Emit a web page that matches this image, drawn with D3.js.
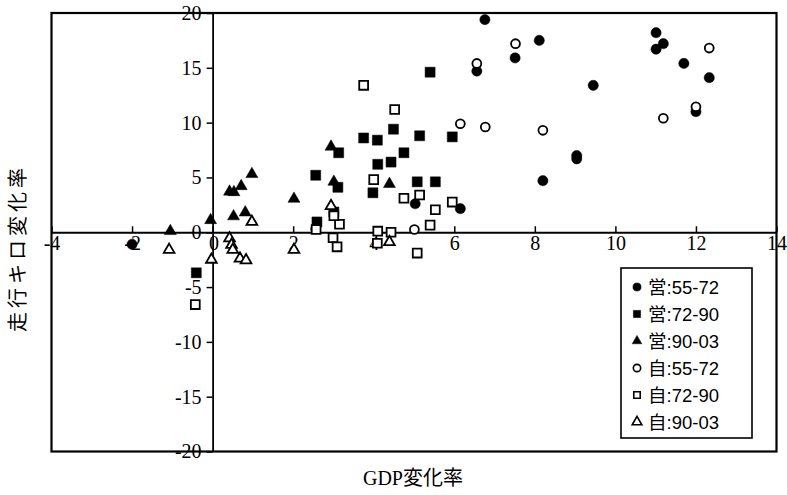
<!DOCTYPE html>
<html>
<head>
<meta charset="utf-8">
<script src="https://cdn.jsdelivr.net/npm/d3@7/dist/d3.min.js"></script>
<style>
  body { margin: 0; background: #fff; }
  svg { display: block; }
</style>
</head>
<body>
<svg id="chart" width="787" height="495"></svg>
<script>
// GDP変化率 (x) vs 走行キロ変化率 (y)
const eiGyo5572 = [[6.76,19.4],[8.11,17.5],[7.51,15.9],[6.56,14.7],[9.45,13.4],[11.01,18.2],[11.19,17.2],[11.01,16.7],[11.70,15.4],[12.33,14.1],[12.0,11.0],[9.04,7.0],[9.04,6.7],[8.2,4.7],[5.03,2.6],[6.15,2.15],[-2.0,-1.1]];
const eiGyo7290 = [[5.40,14.6],[3.75,8.6],[4.09,8.4],[4.49,9.4],[5.14,8.8],[5.95,8.7],[4.75,7.25],[4.10,6.2],[4.43,6.4],[3.13,7.25],[2.56,5.2],[3.11,4.1],[3.98,3.6],[5.08,4.6],[5.53,4.6],[3.01,1.85],[2.59,0.94],[-0.405,-3.7]];
const eiGyo9003 = [[-1.05,0.1],[-0.05,1.1],[0.42,3.7],[0.53,3.65],[0.71,4.2],[0.975,5.3],[0.52,1.45],[0.81,1.8],[2.02,3.05],[2.94,7.8],[3.01,4.6],[4.39,4.4]];
const jika5572 = [[7.52,17.2],[6.56,15.4],[12.33,16.8],[12.0,11.45],[11.19,10.4],[6.15,9.9],[6.77,9.6],[8.2,9.3],[5.01,0.25],[2.56,0.3]];
const jika7290 = [[3.75,13.4],[4.52,11.2],[4.0,4.8],[4.75,3.1],[5.14,3.4],[5.53,2.05],[5.95,2.75],[3.15,0.73],[3.01,1.5],[2.99,-0.5],[3.09,-1.33],[4.1,0.1],[4.43,0.0],[4.09,-1.0],[5.40,0.65],[5.08,-1.9],[-0.43,-6.6],[2.57,0.25]];
const jika9003 = [[-1.08,-1.6],[-0.03,-2.5],[0.42,-0.55],[0.47,-1.15],[0.5,-1.6],[0.68,-2.4],[0.83,-2.55],[0.975,0.95],[2.02,-1.6],[4.39,-0.9],[2.94,2.4]];

const xTicks = [-4,-2,0,2,4,6,8,10,12,14];
const yTicks = [-20,-15,-10,-5,0,5,10,15,20];

const seriesNames = ["営:55-72","営:72-90","営:90-03","自:55-72","自:72-90","自:90-03"];
const seriesData = [eiGyo5572, eiGyo7290, eiGyo9003, jika5572, jika7290, jika9003];

const svg = d3.select("#chart");

const x = d3.scaleLinear().domain([-4, 14]).range([51.5, 776.5]);
const y = d3.scaleLinear().domain([-20, 20]).range([451.5, 13]);

const serif = "'Liberation Serif', 'Noto Sans CJK JP', serif";
const sans = "'Liberation Sans', 'Noto Sans CJK JP', sans-serif";
const plain = (d) => String(d); // hyphen minus, like the original

// frame
svg.append("rect")
  .attr("x", x(-4)).attr("y", y(20))
  .attr("width", x(14) - x(-4)).attr("height", y(-20) - y(20))
  .attr("fill", "none").attr("stroke", "#000").attr("stroke-width", 2.2);

// x axis on y = 0
const gx = svg.append("g")
  .attr("transform", `translate(0,${y(0)})`)
  .call(d3.axisBottom(x).tickValues(xTicks).tickFormat(plain)
    .tickSizeInner(-6).tickSizeOuter(0).tickPadding(4));

// y axis on x = 0
const gy = svg.append("g")
  .attr("transform", `translate(${x(0)},0)`)
  .call(d3.axisLeft(y).tickValues(yTicks).tickFormat(plain)
    .tickSizeInner(6).tickSizeOuter(0).tickPadding(5));

[gx, gy].forEach((g) => {
  g.select(".domain").attr("stroke-width", 1.8);
  g.selectAll(".tick line").attr("stroke-width", 1.5);
  g.selectAll(".tick text")
    .attr("font-family", serif)
    .attr("font-size", 20)
    .attr("fill", "#000");
});
gx.selectAll(".tick text").filter((d) => d === 0).attr("dx", 1);

// markers
function shapeFor(i) {
  const t = i % 3;
  if (t === 0) return d3.symbol().type(d3.symbolCircle).size(i < 3 ? 82 : 62);
  if (t === 1) return d3.symbol().type(d3.symbolSquare).size(i < 3 ? 100 : 78);
  return d3.symbol().type(d3.symbolTriangle).size(i < 3 ? 62 : 50);
}

// filled first, open (white) on top
seriesData.forEach((data, i) => {
  const open = i >= 3;
  svg.append("g")
    .attr("class", "series-" + i)
    .selectAll("path")
    .data(data)
    .join("path")
    .attr("d", shapeFor(i))
    .attr("transform", (d) => `translate(${x(d[0])},${y(d[1])})`)
    .attr("fill", open ? "#fff" : "#000")
    .attr("stroke", "#000")
    .attr("stroke-width", open ? 1.8 : 0.5);
});

// legend
const legend = svg.append("g").attr("transform", "translate(621,268)");
legend.append("rect")
  .attr("width", 131).attr("height", 170)
  .attr("fill", "#fff").attr("stroke", "#000").attr("stroke-width", 1.6);

seriesNames.forEach((name, i) => {
  const open = i >= 3;
  const t = i % 3;
  const sym = d3.symbol()
    .type(t === 0 ? d3.symbolCircle : t === 1 ? d3.symbolSquare : d3.symbolTriangle)
    .size(t === 2 ? 40 : open ? 42 : 52);
  const row = legend.append("g").attr("transform", `translate(0,${19 + i * 27})`);
  row.append("path")
    .attr("d", sym)
    .attr("transform", "translate(16,0)")
    .attr("fill", open ? "#fff" : "#000")
    .attr("stroke", "#000")
    .attr("stroke-width", open ? 1.6 : 0.5);
  row.append("text")
    .attr("x", 27).attr("y", 0).attr("dy", "0.36em")
    .attr("font-family", sans).attr("font-size", 18.5)
    .text(name);
});

// axis titles
svg.append("text")
  .attr("x", 413).attr("y", 478).attr("dy", "0.35em")
  .attr("text-anchor", "middle")
  .attr("font-family", serif).attr("font-size", 20)
  .text("GDP変化率");

svg.append("text")
  .attr("transform", "translate(18,248) rotate(-90)")
  .attr("dy", "0.35em")
  .attr("text-anchor", "middle")
  .attr("font-family", sans).attr("font-size", 20)
  .attr("letter-spacing", 4)
  .text("走行キロ変化率");
</script>
</body>
</html>
